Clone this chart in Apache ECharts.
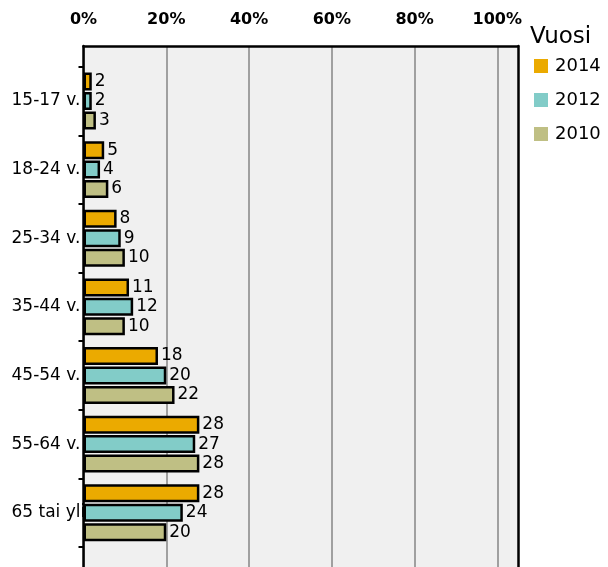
<!DOCTYPE html>
<html>
<head>
<meta charset="utf-8">
<script src="https://cdn.jsdelivr.net/npm/echarts@6/dist/echarts.min.js"></script>
<style>html,body{margin:0;padding:0;background:#fff}#c{width:608px;height:567px}</style>
</head>
<body>
<div id="c"></div>
<script>
const categories = ['15-17 v.', '18-24 v.', '25-34 v.', '35-44 v.', '45-54 v.', '55-64 v.', '65 tai yli'];
const years = ['2014', '2012', '2010'];
const v2014 = [2, 5, 8, 11, 18, 28, 28];
const v2012 = [2, 4, 9, 12, 20, 27, 24];
const v2010 = [3, 6, 10, 10, 22, 28, 20];
const colors = ['#EBAA00', '#82CCC8', '#BFBF84'];

const FONT = 'DejaVu Sans';
const chart = echarts.init(document.getElementById('c'));
const mkSeries = (name, data, color) => ({
  name, type: 'bar', data, xAxisIndex: 1, yAxisIndex: 1,
  barWidth: 18, barGap: '8%', z: 5,
  itemStyle: { color, borderColor: '#000', borderWidth: 2.5 },
  label: { show: true, position: 'right', distance: 3, color: '#000', fontFamily: FONT, fontSize: 17 }
});
chart.setOption({
  animation: false,
  title: { text: 'Vuosi', left: 525, top: 21, textStyle: { fontFamily: FONT, fontSize: 23, fontWeight: 'normal', color: '#000' } },
  legend: {
    data: years, orient: 'vertical', left: 534, top: 57, padding: 0, itemWidth: 14, itemHeight: 14, itemGap: 16,
    icon: 'rect', itemStyle: { borderWidth: 0 },
    textStyle: { fontFamily: FONT, fontSize: 18, color: '#000', padding: [0, 0, 0, 2] }
  },
  grid: [
    { left: 83.5, right: 90, top: 46, bottom: 0, show: true, backgroundColor: '#F0F0F0', borderWidth: 0 },
    { left: 83.5, right: 90, top: 66.7, bottom: 20 },
    { left: 83.5, right: 90, top: 33, bottom: 0 }
  ],
  xAxis: [
    {
      gridIndex: 2, type: 'value', position: 'top', min: 0, max: 105, interval: 20,
      axisLine: { show: false, onZero: false },
      axisTick: { show: false },
      axisLabel: { show: true, margin: 5, formatter: v => (v > 100 ? '' : v + '%'), fontFamily: FONT, fontWeight: 'bold', fontSize: 16, color: '#000' },
      splitLine: { show: false }
    },
    {
      gridIndex: 1, type: 'value', min: 0, max: 105, show: false
    },
    {
      gridIndex: 0, type: 'value', position: 'top', min: 0, max: 105, interval: 20,
      axisLine: { show: true, onZero: false, lineStyle: { color: '#000', width: 2.5 } },
      axisTick: { show: false },
      axisLabel: { show: false },
      splitLine: { show: true, showMaxLine: false, lineStyle: { color: '#A0A0A0', width: 2 } }
    }
  ],
  yAxis: [
    {
      gridIndex: 2, type: 'value', min: 0, max: 1, show: false
    },
    {
      gridIndex: 1, type: 'category', data: categories, inverse: true,
      axisLine: { show: false, onZero: false },
      axisTick: { show: true, length: 5, lineStyle: { color: '#000', width: 2 } },
      axisLabel: { margin: 72, align: 'left', fontFamily: FONT, fontSize: 17, color: '#000' },
      splitLine: { show: false }
    },
    {
      gridIndex: 0, type: 'value', min: 0, max: 1, position: 'left',
      axisLine: { show: true, onZero: false, lineStyle: { color: '#000', width: 2.5 } },
      axisTick: { show: false }, axisLabel: { show: false }, splitLine: { show: false }
    },
    {
      gridIndex: 0, type: 'value', min: 0, max: 1, position: 'right',
      axisLine: { show: true, onZero: false, lineStyle: { color: '#000', width: 2.5 } },
      axisTick: { show: false }, axisLabel: { show: false }, splitLine: { show: false }
    }
  ],
  series: [
    mkSeries('2014', v2014, colors[0]),
    mkSeries('2012', v2012, colors[1]),
    mkSeries('2010', v2010, colors[2])
  ]
});
</script>
</body>
</html>
